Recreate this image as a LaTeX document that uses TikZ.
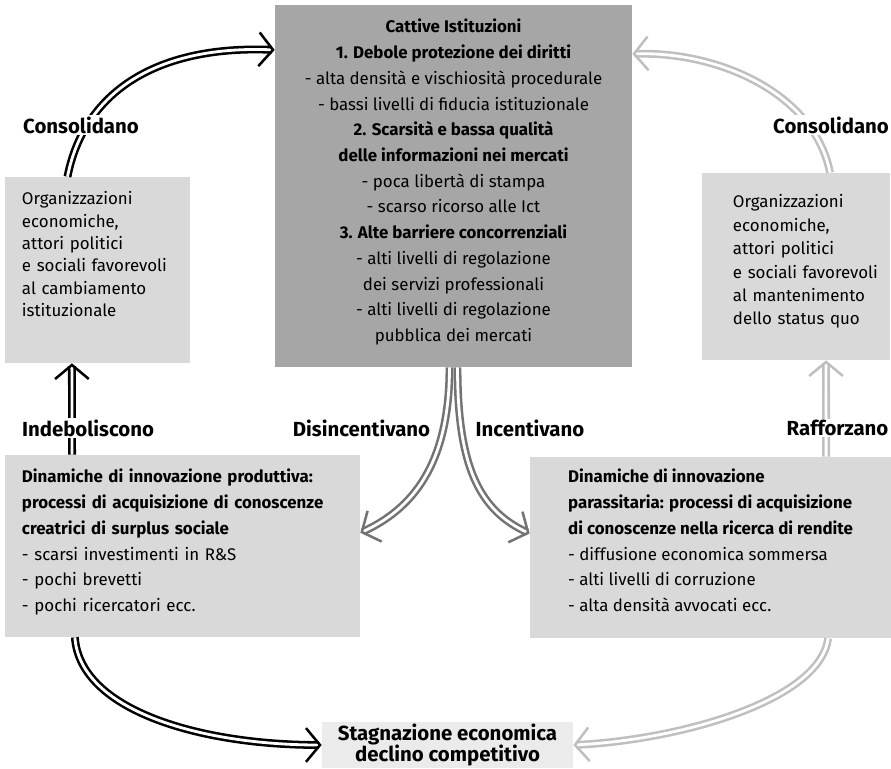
\documentclass[tikz,border=0pt]{standalone}
\usepackage{fontspec}
\setmainfont{Fira Sans}
\usepackage{tikz}
\usetikzlibrary{arrows.meta}

% invisible strut that deepens the last line of a panel
\newcommand{\lift}[1]{\rule[-#1]{0pt}{#1}}

\begin{document}
\begin{tikzpicture}[x=0.025cm, y=-0.025cm,
  panel/.style={inner sep=0pt},
  tag/.style={font=\fontsize{14.5}{16}\selectfont\bfseries, fill=white, inner sep=1pt},
  dbl/.style={draw=#1, double=white, line width=1.8pt, double distance=2pt, -{Straight Barb[length=10pt, width=24pt]}}]
%
\path[use as bounding box] (0,0) rectangle (891,768);
%
% panels
\node[panel, fill=black!35, minimum width=8.925cm, minimum height=9.05cm, align=center, font=\fontsize{12}{18.3}\selectfont] (cbox) at (453.5,186) {\textbf{Cattive Istituzioni}\\ \textbf{1. Debole protezione dei diritti}\\ - alta densità e vischiosità procedurale\\ - bassi livelli di fiducia istituzionale\\ \textbf{2. Scarsità e bassa qualità}\\ \textbf{delle informazioni nei mercati}\\ - poca libertà di stampa\\ - scarso ricorso alle Ict\\ \textbf{3. Alte barriere concorrenziali}\\ - alti livelli di regolazione\\ dei servizi professionali\\ - alti livelli di regolazione\\ pubblica dei mercati\lift{8pt}};
\node[panel, fill=black!15, inner xsep=0.425cm, minimum height=4.65cm, text width=3.775cm, align=left, font=\fontsize{12}{15.9}\selectfont] (lbox) at (97.5,270) {Organizzazioni\\ economiche,\\ attori politici\\ e sociali favorevoli\\ al cambiamento\\ istituzionale\lift{22.7pt}};
\node[panel, fill=black!15, inner xsep=0.775cm, minimum height=4.675cm, text width=3.15cm, align=left, font=\fontsize{12}{16.6}\selectfont] (rbox) at (796,266.5) {Organizzazioni\\ economiche,\\ \mbox{attori politici}\\ \mbox{e sociali favorevoli}\\ \mbox{al mantenimento}\\ \mbox{dello status quo}\lift{9.6pt}};
\node[panel, fill=black!15, inner xsep=0.425cm, minimum height=4.55cm, text width=8.025cm, align=left, font=\fontsize{12}{18.4}\selectfont] (blbox) at (182.5,546) {\textbf{Dinamiche di innovazione produttiva:}\\ \textbf{processi di acquisizione di conoscenze}\\ \textbf{creatrici di surplus sociale}\\ - scarsi investimenti in R\&S\\ - pochi brevetti\\ - pochi ricercatori ecc.\lift{8.2pt}};
\node[panel, fill=black!15, minimum width=9.025cm, minimum height=4.525cm, align=left, font=\fontsize{12}{18.4}\selectfont] (brbox) at (710.5,547.5) {\textbf{Dinamiche di innovazione}\\ \textbf{parassitaria: processi di acquisizione}\\ \textbf{di conoscenze nella ricerca di rendite}\\ - diffusione economica sommersa\\ - alti livelli di corruzione\\ - alta densità avvocati ecc.\lift{10.3pt}};
\node[panel, fill=black!8, minimum width=6.275cm, minimum height=1.15cm, align=center, font=\fontsize{14.5}{15.6}\selectfont\bfseries] (sbox) at (447.5,745) {Stagnazione economica\\ declino competitivo};
%
% arrows
\draw[dbl=black] ([xshift=-0.75cm]lbox.north) .. controls +(17,-87) and +(-115,-5) .. ([yshift=3.4cm]cbox.west);
\draw[dbl=black!25] ([xshift=0.85cm]rbox.north) .. controls +(-15,-78) and +(88,-3) .. ([yshift=3.3cm]cbox.east);
\draw[dbl=black] ([xshift=-2.76cm]blbox.north) -- ([xshift=-0.64cm]lbox.south);
\draw[dbl=black!25] ([xshift=2.89cm]brbox.north) -- ([xshift=0.75cm]rbox.south);
\draw[dbl=black!55] ([xshift=-0.1cm]cbox.south) .. controls +(0,100) and +(50,-23) .. ([yshift=0.33cm]blbox.east);
\draw[dbl=black!55] ([xshift=0.1cm]cbox.south) .. controls +(0,100) and +(-50,-23) .. ([yshift=0.35cm]brbox.west);
\draw[dbl=black] ([xshift=-2.69cm]blbox.south) .. controls +(5,73) and +(-122,0) .. (sbox.west);
\draw[dbl=black!25] ([xshift=2.94cm]brbox.south) .. controls +(-8,62) and +(107,-5) .. (sbox.east);
%
% labels
\node[tag] (lcons) at (81,125) {Consolidano};
\node[tag] (rcons) at (831,125) {Consolidano};
\node[tag] (indeb) at (88,428) {Indeboliscono};
\node[tag] (disinc) at (361.5,428) {Disincentivano};
\node[tag] (incent) at (530,428) {Incentivano};
\node[tag] (raff) at (837.5,428) {Rafforzano};
%
\end{tikzpicture}
\end{document}
